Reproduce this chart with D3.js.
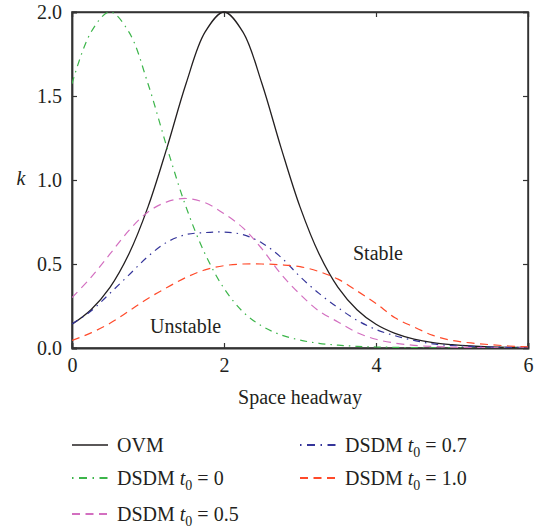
<!DOCTYPE html>
<html>
<head>
<meta charset="utf-8">
<script src="https://cdn.jsdelivr.net/npm/d3@7/dist/d3.min.js"></script>
<style>
  body { margin: 0; background: #fff; }
  text { font-family: "Liberation Serif", "Times New Roman", serif; fill: #231f20; }
</style>
</head>
<body>
<svg id="chart" width="541" height="531"></svg>
<script>
// Space headway samples (x) and critical sensitivity k for each model
const headway = [0, 0.25, 0.5, 0.75, 1, 1.25, 1.5, 1.75, 2, 2.25, 2.5, 2.75, 3, 3.25, 3.5, 3.75, 4, 4.25, 4.5, 4.75, 5, 5.25, 5.5, 5.75, 6];

const kOVM   = [0.141, 0.228, 0.361, 0.561, 0.840, 1.193, 1.573, 1.880, 2.000, 1.880, 1.573, 1.193, 0.840, 0.561, 0.361, 0.228, 0.141, 0.087, 0.053, 0.032, 0.020, 0.012, 0.007, 0.004, 0.003];
const kT0_00 = [1.573, 1.880, 2.000, 1.880, 1.573, 1.193, 0.840, 0.561, 0.355, 0.215, 0.130, 0.078, 0.047, 0.028, 0.017, 0.010, 0.006, 0.004, 0.002, 0.001, 0.001, 0, 0, 0, 0];
const kT0_05 = [0.300, 0.420, 0.560, 0.700, 0.810, 0.870, 0.890, 0.865, 0.800, 0.715, 0.590, 0.440, 0.320, 0.220, 0.155, 0.092, 0.052, 0.029, 0.016, 0.009, 0.005, 0.003, 0.002, 0.001, 0.001];
const kT0_07 = [0.143, 0.220, 0.326, 0.435, 0.545, 0.630, 0.675, 0.687, 0.690, 0.675, 0.625, 0.540, 0.425, 0.325, 0.240, 0.165, 0.110, 0.073, 0.045, 0.024, 0.015, 0.010, 0.006, 0.004, 0.002];
const kT0_10 = [0.045, 0.090, 0.147, 0.220, 0.295, 0.360, 0.420, 0.465, 0.490, 0.500, 0.500, 0.495, 0.484, 0.455, 0.410, 0.340, 0.265, 0.180, 0.125, 0.075, 0.045, 0.030, 0.020, 0.012, 0.007];

const xTicks = [0, 2, 4, 6];
const yTicks = [0.0, 0.5, 1.0, 1.5, 2.0];

// Legend labels: [main text, subscript, rest]
const seriesLabels = [
  ["OVM", "", ""],
  ["DSDM t", "0", " = 0"],
  ["DSDM t", "0", " = 0.5"],
  ["DSDM t", "0", " = 0.7"],
  ["DSDM t", "0", " = 1.0"]
];
const seriesValues = [kOVM, kT0_00, kT0_05, kT0_07, kT0_10];

// Drawing styles for each series
const seriesStyles = [
  { color: "#231f20", dash: null,            width: 1.3 },
  { color: "#3cb54a", dash: "7,5,1.5,5",     width: 1.2 },
  { color: "#d36fc0", dash: "8,5.5",         width: 1.2 },
  { color: "#35359a", dash: "7,5,1.5,5",     width: 1.2 },
  { color: "#ff4a2a", dash: "8,5.5",         width: 1.2 }
];

const svg = d3.select("#chart");
const margin = { left: 72, right: 13, top: 12, bottom: 183 };
const W = 541, H = 531;
const x = d3.scaleLinear().domain([0, 6]).range([margin.left, W - margin.right]);
const y = d3.scaleLinear().domain([0, 2]).range([H - margin.bottom, margin.top]);

const axisColor = "#333";
const fontSize = 20;

// Plot frame
svg.append("rect")
  .attr("x", x(0)).attr("y", y(2))
  .attr("width", x(6) - x(0)).attr("height", y(0) - y(2))
  .attr("fill", "none").attr("stroke", axisColor).attr("stroke-width", 1.5);

// Inward ticks on all four sides
const tickLen = 5;
const bottomAxis = d3.axisBottom(x).tickValues(xTicks).tickSize(-tickLen).tickFormat(d3.format("d")).tickPadding(10);
const topAxis = d3.axisTop(x).tickValues(xTicks).tickSize(-tickLen).tickFormat("");
const leftAxis = d3.axisLeft(y).tickValues(yTicks).tickSize(-tickLen).tickFormat(d3.format(".1f")).tickPadding(10);
const rightAxis = d3.axisRight(y).tickValues(yTicks).tickSize(-tickLen).tickFormat("");

function styleAxis(g) {
  g.select(".domain").attr("stroke", axisColor).attr("stroke-width", 1.8);
  g.selectAll(".tick line").attr("stroke", axisColor).attr("stroke-width", 1.2);
  g.selectAll(".tick text")
    .attr("font-family", "Liberation Serif, Times New Roman, serif")
    .attr("font-size", fontSize).attr("fill", "#231f20");
}

svg.append("g").attr("transform", `translate(0,${y(0)})`).call(bottomAxis).call(styleAxis);
svg.append("g").attr("transform", `translate(0,${y(2)})`).call(topAxis).call(styleAxis)
  .select(".domain").attr("stroke-width", 1.3);
svg.append("g").attr("transform", `translate(${x(0)},0)`).call(leftAxis).call(styleAxis);
svg.append("g").attr("transform", `translate(${x(6)},0)`).call(rightAxis).call(styleAxis)
  .select(".domain").attr("stroke-width", 1.3);

// Axis titles
svg.append("text")
  .attr("x", (x(0) + x(6)) / 2).attr("y", 404)
  .attr("text-anchor", "middle").attr("font-size", fontSize)
  .text("Space headway");
svg.append("text")
  .attr("x", 21).attr("y", y(1) + 5)
  .attr("text-anchor", "middle").attr("font-size", fontSize)
  .attr("font-style", "italic")
  .text("k");

// Region labels
svg.append("text").attr("x", 353).attr("y", 260).attr("font-size", fontSize).text("Stable");
svg.append("text").attr("x", 150).attr("y", 333).attr("font-size", fontSize).text("Unstable");

// Curves
svg.append("clipPath").attr("id", "plotClip")
  .append("rect").attr("x", x(0)).attr("y", y(2) - 2)
  .attr("width", x(6) - x(0)).attr("height", y(0) - y(2) + 2);

const line = d3.line()
  .x((d, i) => x(headway[i]))
  .y(d => y(d))
  .curve(d3.curveCatmullRom.alpha(0.5));

const curves = svg.append("g").attr("clip-path", "url(#plotClip)");
seriesValues.forEach((vals, i) => {
  const st = seriesStyles[i];
  curves.append("path")
    .datum(vals)
    .attr("d", line)
    .attr("fill", "none")
    .attr("stroke", st.color)
    .attr("stroke-width", st.width)
    .attr("stroke-dasharray", st.dash);
});

// Legend: two columns
const legendCols = [72, 300];
const legendRows = [445, 478, 514];
const legendSlots = [[0, 0], [0, 1], [0, 2], [1, 0], [1, 1]];

seriesLabels.forEach((lab, i) => {
  const st = seriesStyles[i];
  const [c, r] = legendSlots[i];
  const lx = legendCols[c], ly = legendRows[r];
  const g = svg.append("g").attr("transform", `translate(${lx},${ly})`);
  g.append("line")
    .attr("x1", 0).attr("x2", 36).attr("y1", 0).attr("y2", 0)
    .attr("stroke", st.color).attr("stroke-width", i === 0 ? 1.5 : 2)
    .attr("stroke-dasharray", st.dash ? (st.dash.includes(",1.5,") ? "1.5,5.5,8,5.5" : "8,5.5") : null);
  const t = g.append("text").attr("x", 45).attr("y", 6.5).attr("font-size", fontSize);
  if (lab[1]) {
    const parts = lab[0].split(" ");
    t.append("tspan").text(parts[0] + " ");
    t.append("tspan").attr("font-style", "italic").text(parts[1]);
    t.append("tspan").attr("font-size", 14).attr("dy", 5).text(lab[1]);
    t.append("tspan").attr("dy", -5).text(lab[2]);
  } else {
    t.text(lab[0]);
  }
});
</script>
</body>
</html>
